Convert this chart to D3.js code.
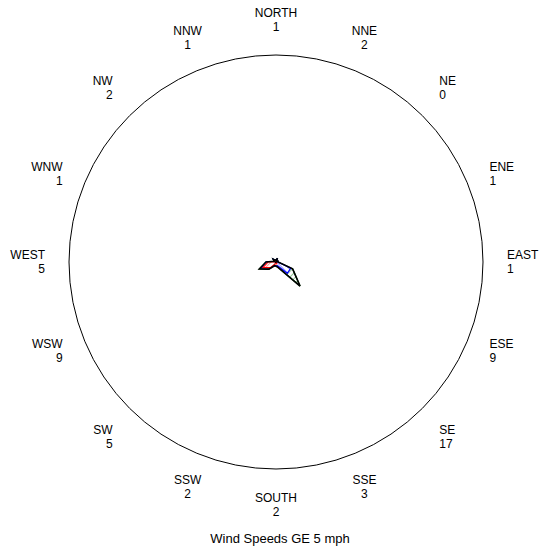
<!DOCTYPE html>
<html>
<head>
<meta charset="utf-8">
<script src="https://cdn.jsdelivr.net/npm/d3@7"></script>
<style>
  body { margin: 0; background: #fff; }
  text { font-family: Arial, "Liberation Sans", sans-serif; font-size: 12px; fill: #000; }
</style>
</head>
<body>
<svg id="rose"></svg>
<script>
// directions clockwise from north
let directions = ["NORTH", "NNE", "NE", "ENE", "EAST", "ESE", "SE", "SSE",
                  "SOUTH", "SSW", "SW", "WSW", "WEST", "WNW", "NW", "NNW"];
let totals = [1, 2, 0, 1, 1, 9, 17, 3, 2, 2, 5, 9, 5, 1, 2, 1];

// counts by speed class (estimated from the coloured outlines)
let speedClasses = ["5-10 mph", "10-15 mph", "15+ mph"];
let speed5to10  = [0, 1, 0, 0, 0, 0, 0, 1, 1, 1, 4, 7, 4, 0, 1, 0];
let speed10to15 = [1, 1, 0, 1, 1, 8, 8, 1, 1, 1, 0, 1, 1, 1, 1, 1];
let speed15up   = [0, 0, 0, 0, 0, 1, 9, 1, 0, 0, 1, 1, 0, 0, 0, 0];

let title = "Wind Speeds GE 5 mph";

let w = 550, h = 553;
let cx = 276, cy = 262;
let circleR = 207, labelR = 231;

let svg = d3.select("#rose")
    .attr("width", w)
    .attr("height", h)

let color = d3.scaleOrdinal()
    .domain(speedClasses)
    .range(["red", "blue", "green"])

//hatch fills, one per speed class
let defs = svg.append("defs");
speedClasses.forEach(function (s, k) {
    let p = defs.append("pattern")
        .attr("id", "hatch" + k)
        .attr("patternUnits", "userSpaceOnUse")
        .attr("width", 4)
        .attr("height", 4)
        .attr("patternTransform", "rotate(" + (k % 2 ? -45 : 45) + ")")
    p.append("rect").attr("width", 4).attr("height", 4).attr("fill", "#fff")
    p.append("line")
        .attr("x1", 0).attr("y1", 0).attr("x2", 0).attr("y2", 4)
        .attr("stroke", color(s))
        .attr("stroke-width", 0.8)
});

let g = svg.append("g")
    .attr("transform", "translate(" + cx + "," + cy + ")")

//outer ring
g.append("circle")
    .attr("r", circleR)
    .attr("fill", "none")
    .attr("stroke", "#000")
    .attr("stroke-width", 1)

let angle = d3.scalePoint()
    .domain(directions)
    .range([0, 2 * Math.PI * 15 / 16])

//about 2px per observation
let rScale = d3.scaleLinear()
    .domain([0, 100])
    .range([0, 200])

//cumulative values so each class polygon encloses the ones below it
let layers = [speed5to10, speed10to15, speed15up];
let cumulative = [];
layers.forEach(function (arr, k) {
    cumulative.push(arr.map(function (v, i) {
        return v + (k > 0 ? cumulative[k - 1][i] : 0);
    }));
});

let radial = d3.lineRadial()
    .angle(function (d, i) { return angle(directions[i]); })
    .radius(function (d) { return rScale(d); })
    .curve(d3.curveLinearClosed)

let layerData = cumulative.map(function (vals, k) {
    return { k: k, vals: vals };
}).reverse();

g.selectAll("path.layer")
    .data(layerData)
    .enter()
    .append("path")
    .attr("class", "layer")
    .attr("d", function (d) { return radial(d.vals); })
    .attr("fill", function (d) { return "url(#hatch" + d.k + ")"; })
    .attr("stroke", function (d) { return color(speedClasses[d.k]); })
    .attr("stroke-width", 1.2)
    .attr("stroke-linejoin", "miter")

//total outline on top
g.append("path")
    .attr("d", radial(totals))
    .attr("fill", "none")
    .attr("stroke", "#000")
    .attr("stroke-width", 1.6)
    .attr("stroke-linejoin", "miter")

//labels: name over count, anchored away from the centre
let lineGap = 14, capH = 8.6;
let labels = g.selectAll("g.lab")
    .data(directions)
    .enter()
    .append("g")
    .attr("class", "lab")

labels.each(function (d, i) {
    let a = angle(d);
    let s = Math.sin(a), c = Math.cos(a);
    let px = labelR * s, py = -labelR * c;
    let anchor = s > 0.5 ? "start" : (s < -0.5 ? "end" : "middle");
    //baseline of the count line
    let yCount;
    if (c > 0.5) yCount = py;
    else if (c < -0.5) yCount = py + capH + lineGap;
    else yCount = py + (capH + lineGap) / 2;
    let sel = d3.select(this);
    sel.append("text")
        .attr("x", px)
        .attr("y", yCount - lineGap)
        .attr("text-anchor", anchor)
        .text(d)
    sel.append("text")
        .attr("x", px)
        .attr("y", yCount)
        .attr("text-anchor", anchor)
        .text(totals[i])
});

svg.append("text")
    .attr("x", 280)
    .attr("y", 543)
    .attr("text-anchor", "middle")
    .style("font-size", "13px")
    .text(title)
</script>
</body>
</html>
